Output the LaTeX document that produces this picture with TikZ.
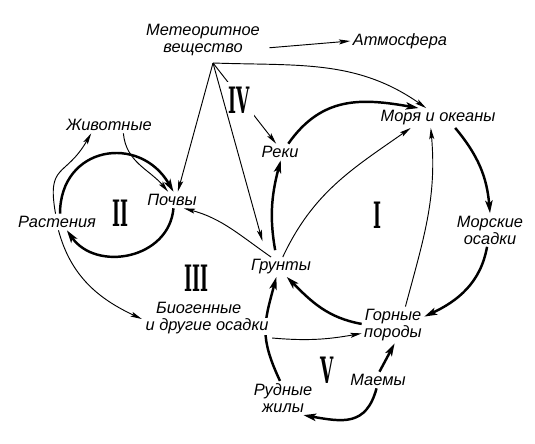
\documentclass[tikz,border=0pt]{standalone}
\usepackage{fontspec}
\usepackage{graphicx}
\newfontfamily\lblfont{Liberation Sans}
\newfontfamily\numfont{DejaVu Serif}
\usetikzlibrary{arrows.meta, backgrounds}
\newcommand{\cycnum}[1]{\scalebox{0.47}[1]{#1}}

\begin{document}
\begin{tikzpicture}[x=0.03cm, y=-0.03cm,
      lbl/.style={font=\lblfont\itshape\fontsize{14}{14.5}\selectfont,
                  align=center, inner sep=2pt},
      num/.style={font=\numfont\bfseries\fontsize{31}{31}\selectfont, inner sep=0pt},
      arr/.style={line width=0.8pt, -{Stealth[length=3.4mm, width=1.5mm, inset=0.7mm]}},
      flow/.style={line width=2.1pt, -{Stealth[length=3.8mm, width=2.2mm, inset=0.9mm]}}
    ]
    \useasboundingbox (0,0) rectangle (535,443);

    % Labels
    \coordinate (apex) at (213,63);
    \node[lbl] (met)     at (203,40)  {Метеоритное\\вещество};
    \node[lbl] (atm)     at (400,41)  {Атмосфера};
    \node[lbl] (sea)     at (438,118) {Моря и океаны};
    \node[lbl] (rivers)  at (280,152) {Реки};
    \node[lbl] (animals) at (109,125) {Животные};
    \node[lbl] (soil)    at (172,200) {Почвы};
    \node[lbl] (plants)  at (57,222)  {Растения};
    \node[lbl] (grunt)   at (281,267) {Грунты};
    \node[lbl] (bio)     at (207,319) {Биогенные\hspace*{0.5cm}\\{\fboxsep=1pt\colorbox{white}{и другие осадки}}};
    \node[lbl] (marsed)  at (490,230) {Морские\\осадки};
    \node[lbl] (rocks)   at (393,325) {Горные\\породы};
    \node[lbl] (ore)     at (283,398) {Рудные\\жилы};
    \node[lbl] (magma)   at (378,380) {Маемы};

    % Cycle numbers
    \node[num] (c1) at (377,215) {\cycnum{I}};
    \node[num] (c2) at (120,213) {\cycnum{II}};
    \node[num] (c3) at (196,278) {\cycnum{III}};
    \node[num, fill=white, inner sep=4pt] (c4) at (239,100) {\cycnum{IV}};
    \node[num] (c5) at (327,370) {\cycnum{V}};

    % Meteoric matter
    \draw[arr, shorten <=6pt] (met.-8) -- (atm.west);
    \draw[arr] (apex) -- (soil.55);
    \draw[arr, shorten >=14pt] (apex) -- (grunt.145);
    \draw[arr] (apex) to[out=-2,in=145] (sea.140);

    % Cycle I
    \draw[flow] (rivers.45) to[out=55,in=170,looseness=1.1] (sea.153);
    \draw[arr] (grunt.80) to[out=65,in=215] (sea.200);
    \draw[arr] (rocks.56) to[out=75,in=-85] (sea.-126);
    \draw[flow] (sea.-30) to[out=-50,in=95] (marsed.north);
    \draw[flow] (marsed.-100) to[out=-100,in=25] (rocks.15);
    \draw[flow] (rocks.178) to[out=170,in=-45] (grunt.-60);
    \draw[flow, shorten <=6pt] (grunt.115) to[out=100,in=-105] (rivers.-85);
    \draw[arr] (grunt.135) to[out=145,in=-15] (soil.-35);

    % Cycles II and III
    \draw[flow] (plants.70) to[out=90,in=120,looseness=1.5] (soil.80);
    \draw[flow] (soil.-80) to[out=-95,in=-55,looseness=1.2] (plants.-40);
    \draw[arr] (plants.100) to[out=100,in=-120,looseness=1.5] (animals.-155);
    \draw[arr] (animals.-30) to[out=-85,in=130] (soil.115);
    \draw[arr] (plants.-80) to[out=-75,in=155] (bio.west);
    \draw[arr] (bio.south east) to[out=-5,in=190] (rocks.195);

    % Cycle V
    \draw[flow] (magma.80) -- (rocks.-85);
    \draw[flow] (magma.-100) to[out=-105,in=-10,looseness=1.3] (ore.-40);

    % Lines passing behind labels
    \begin{scope}[on background layer]
      \draw[flow] (ore.100) to[out=115,in=-105,looseness=1.2] (grunt.-115);
      \draw[arr] (apex) -- (rivers.115);
    \end{scope}
  \end{tikzpicture}
\end{document}
